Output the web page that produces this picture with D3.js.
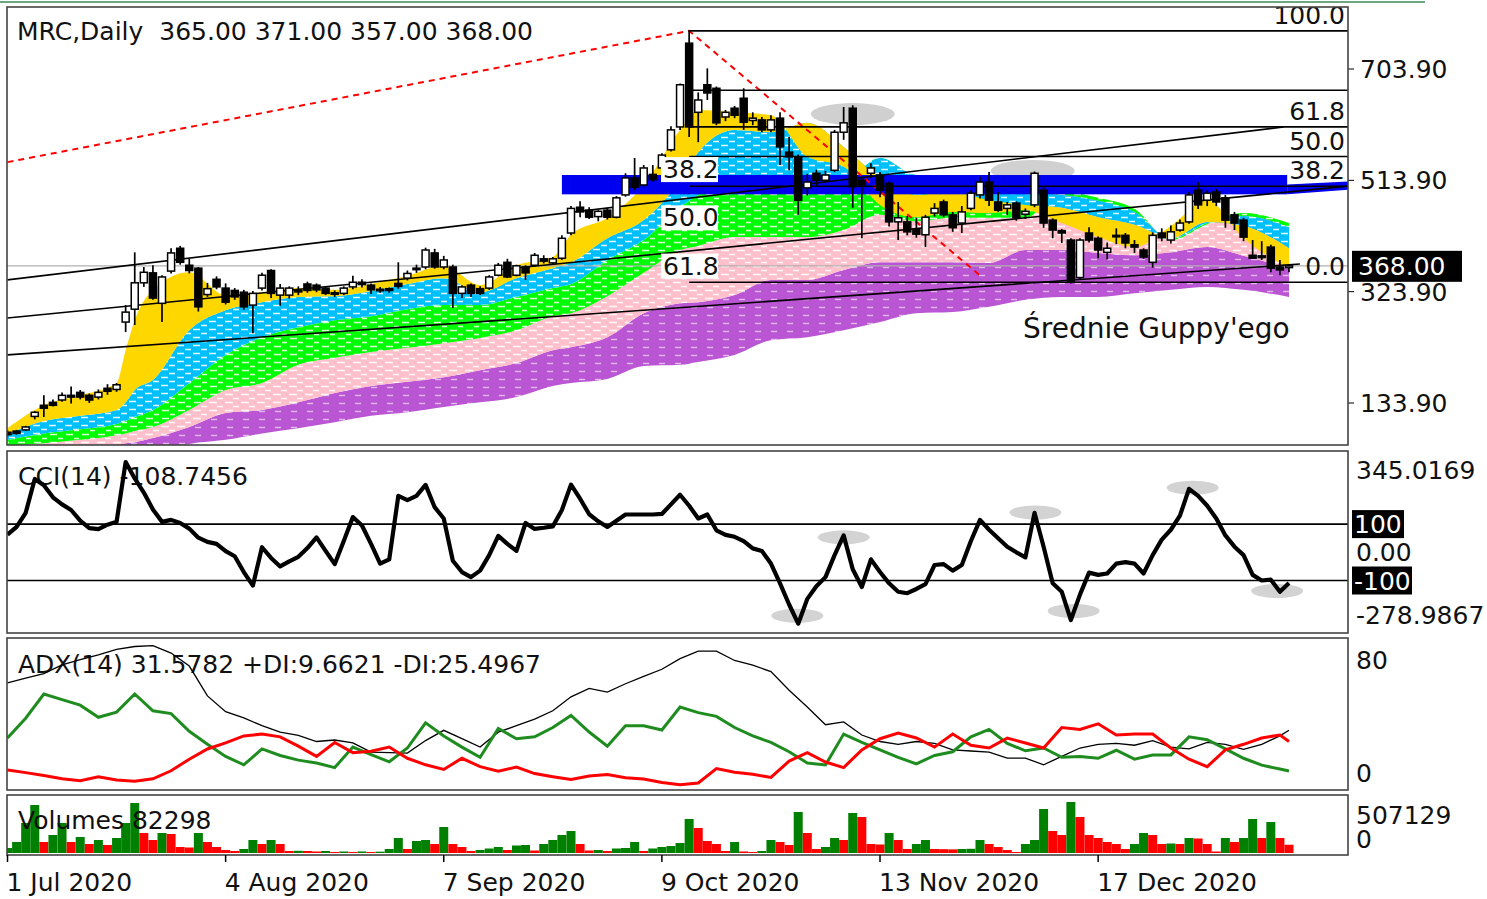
<!DOCTYPE html>
<html>
<head>
<meta charset="utf-8">
<title>MRC Daily</title>
<script src="https://cdn.jsdelivr.net/npm/d3@7"></script>
<style>
  body { margin: 0; background: #fff; }
  svg { display: block; }
  text { font-family: "DejaVu Sans", Verdana, sans-serif; font-size: 25px; fill: #111; white-space: pre; }
</style>
</head>
<body>
<svg id="chart" width="1487" height="899"></svg>
<script>
// bar index of each date label on the time axis
var tickBars = [0, 24, 48, 72, 96, 120];
var tickLabels = ["1 Jul 2020", "4 Aug 2020", "7 Sep 2020", "9 Oct 2020", "13 Nov 2020", "17 Dec 2020"];

var opens = [84,86,88,111,130,135,139,147,152,147, 144,159,157,272,294,339,356,304,359,398,
  369,364,319,345,330,326,323,301,330,360, 318,318,326,337,335,330,322,321,332,340,
  335,327,329,338,347,362,366,390,366,366, 321,335,329,330,352,374,352,366,369,380,
  373,381,424,468,463,452,463,451,489,518, 506,524,535,566,605,748,630,677,671,622,
  637,654,616,617,600,620,562,554,501,526, 514,531,596,637,514,526,523,509,443,443,
  430,421,458,477,455,441,466,489,511,477, 466,475,456,472,497,446,428,412,348,424,
  415,391,420,420,404,395,374,424,412,429, 443,497,480,494,484,455,446,386,385,400,
  366,365];
var highs = [87,88,95,120,147,140,152,162,156,150, 157,166,168,301,391,366,369,352,398,402,
  380,366,339,350,338,330,327,325,356,362, 337,333,333,341,338,333,326,333,351,345,
  338,332,331,374,360,370,399,397,385,370, 335,338,333,352,373,380,370,369,390,386,
  383,420,470,478,468,463,467,487,526,552, 540,540,560,606,679,770,664,705,674,634,
  641,671,630,622,625,630,588,558,525,532, 530,600,639,642,518,543,528,512,477,453,
  450,455,475,481,460,470,497,520,528,494, 477,478,466,529,503,449,431,415,415,434,
  418,408,432,424,412,398,425,432,437,447, 494,511,497,499,489,460,450,412,410,404,
  378,371];
var lows = [77,80,86,106,110,128,136,133,140,134, 140,148,153,255,267,332,310,272,355,370,
  355,290,315,328,302,310,293,253,326,313, 300,312,318,322,323,318,315,318,328,331,
  320,322,322,329,343,356,362,363,362,296, 313,315,318,327,350,347,350,344,367,372,
  370,378,420,451,448,444,447,449,486,497, 503,512,530,563,600,588,579,651,608,615,
  620,600,608,596,596,540,531,455,488,505, 510,528,583,467,415,518,485,435,412,420,
  416,400,452,451,426,424,463,483,470,460, 455,445,448,468,433,415,407,338,344,408,
  381,379,405,398,390,380,365,410,406,426, 440,465,470,470,433,429,410,380,378,357,
  352,357];
var closes = [80,82,93,118,125,130,147,144,144,139, 152,154,165,289,339,357,313,349,390,374,
  360,298,329,332,306,315,298,321,352,321, 330,330,325,326,327,321,320,330,340,336,
  327,328,326,333,355,364,395,366,378,321, 332,321,321,349,369,349,368,356,386,376,
  380,415,466,460,451,461,451,484,518,502, 535,515,557,600,677,605,651,663,612,630,
  625,613,620,600,617,571,554,480,511,514, 523,596,612,503,506,535,497,443,450,426,
  422,451,466,455,433,460,492,511,480,463, 472,450,461,526,441,429,424,340,412,412,
  395,398,418,407,400,383,420,416,426,441, 489,472,492,477,446,441,417,381,382,364,
  361,368];

var volumes = [49700,109400,298300,477300,109400,179000,298300,109400,159100,89500,
  129300,79600,149200,298300,497200,198900,129300,198900,188900,59700,
  54700,198900,109400,59700,29800,19900,39800,129300,89500,129300,
  89500,19900,21900,19900,14900,19900,9900,14900,9900,14900,
  9900,12900,39800,149200,39800,119300,129300,89500,258500,89500,
  59700,19900,29800,44700,59700,29800,74600,79600,24900,89500,
  129300,179000,218800,89500,24900,29800,19900,44700,49700,109400,
  19900,44700,59700,69600,99400,338100,248600,119300,89500,19900,
  109400,14900,9900,19900,129300,109400,79600,407700,198900,39800,
  59700,149200,129300,397800,358000,89500,84500,198900,129300,39800,
  89500,129300,39800,37800,35800,39800,41800,129300,89500,59700,
  29800,9900,89500,129300,437500,218800,179000,507129,358000,179000,
  149200,109400,89500,39800,89500,198900,179000,89500,94500,89500,
  149200,144200,89500,14900,149200,109400,149200,338100,149200,308300,
  149200,82298];

var cci = [63,90,140,260,238,195,170,150,112,86, 82,98,108,320,262,212,152,108,115,104,
  84,52,37,30,4,-14,-70,-118,18,-20, -50,-32,-16,15,53,5,-42,40,125,95,
  30,-40,-25,200,185,200,239,160,120,-30, -70,-88,-65,-10,58,30,5,104,83,87,
  92,150,240,190,135,110,90,112,134,134, 134,134,136,170,204,165,120,134,78,62,
  55,40,14,5,-40,-110,-185,-253,-165,-120, -88,-10,60,-60,-123,-25,-70,-110,-140,-145,
  -130,-113,-45,-42,-65,-45,40,115,80,50, 20,0,-18,140,20,-110,-140,-240,-150,-72,
  -80,-75,-40,-35,-40,-75,-10,45,80,130, 225,200,165,120,60,20,-10,-80,-100,-97,
  -140,-108.7456];
// CCI extremes marked with grey ellipses
var cciMarkBars = [86.9, 92, 113.1, 117.3, 130.4, 139.7];
var cciMarkValues = [-225, 53, 141, -208, 229, -137];

// ADX(14) read every second bar
var dmBars = [0,2,4,6,8,10,12,14,16,18,20,22,24,26,28,30,32,34,36,38,40,42,44,46,48,50,52,54,56,58,
  60,62,64,66,68,70,72,74,76,78,80,82,84,86,88,90,92,94,96,98,100,102,104,106,108,110,112,114,116,118,
  120,122,124,126,128,130,132,134,136,138,140,141];
var adx = [57,59.5,62,66.6,69.5,72,75,76.5,77,73, 66,50,41.5,38.2,34,30.5,28.8,25.5,26.3,24.8,
  19.8,19.5,19.3,26,31.5,27,22.5,30.5,34,37.5, 42,49.5,54,52,56.5,60.5,64.3,70,74,74,
  69,66.5,63,53,44,34.5,36,29,25.5,24, 25.5,24.5,21,20.4,19.8,16.6,16.6,13,17.5,22,
  24,24.5,23.5,26,22.5,21.5,25,24,21.3,24, 28.5,31.5782];
var plusDI = [27.4,38,51,48,45,38.5,41.3,51,42,40.5, 31,24,17.5,13,21.5,18,15.5,14,11.5,22.5,
  18.5,14.6,22,35.5,28.5,22.5,17,32.5,27,28, 33,39.5,30.6,23,34,34,31.7,44,41,39,
  33,28.5,25,20,14,12.9,29.5,25,21,17, 13.5,18,20,28,32,24.5,20.5,22,17,17.5,
  16.5,20.8,16,18.3,18.3,28,26.5,21.5,16.5,12.8, 10.7,9.6621];
var minusDI = [10.2,8.8,7.2,5.5,4.5,6.5,4.8,4.2,5.5,9.8, 16,21.5,24.8,28.5,29.5,28,23,17.5,25,19.5,
  20.3,22.5,16.5,13,10.5,16.5,12,9.5,11.8,8.3, 6.6,5.1,7,7.8,6.1,5.4,3.5,2.3,3.2,11,
  9,7.9,6.2,15,19.5,14.5,11.5,21,27,30, 27.4,22.5,29.5,23.5,22,27.3,24.7,22,33,32,
  35,29,29.5,29.5,22,16,12,21,24,27.4, 29,25.4967];

// Guppy ribbon edges, fastest to slowest, read at these bars
var guppyBars = [0,4,8,12,13,14,16,20,24,28,32,36,40,44,48,52,56,60,62,66,70,74,76,80,84,88,92,96,100,104,108,112,116,120,124,128,132,136,141];
var guppy1 = [91,130,147,168,224,275,327,357,318,323,330,327,337,351,368,335,369,383,421,450,506,600,634,630,625,554,537,472,451,460,458,463,441,417,400,436,480,415,364];
var guppy2 = [81,103,112,122,135,156,173,258,292,306,315,316,325,337,347,323,347,364,374,415,446,514,562,600,596,612,571,518,489,494,480,472,467,451,438,415,443,436,398];
var guppy3 = [71,82,89,98,103,110,122,168,216,246,263,275,282,294,301,301,315,330,337,378,412,468,489,514,506,523,514,552,523,523,497,492,489,479,460,414,441,453,434];
var guppy4 = [60,65,71,79,82,86,93,122,156,168,199,211,221,228,236,245,258,282,287,316,356,395,402,417,417,417,429,455,444,450,450,450,494,484,465,412,439,458,441];
var guppy5 = [45,53,57,62,65,67,74,93,117,122,135,151,163,170,178,190,202,224,229,246,287,304,306,318,344,344,361,374,374,374,373,395,395,390,386,391,400,385,364];
var guppy6 = [19,28,33,40,43,45,50,64,71,82,91,101,112,118,127,135,144,163,168,175,197,199,204,216,241,246,258,272,287,289,298,310,315,315,321,327,332,327,315];

var priceTicks = [703.9, 513.9, 323.9, 133.9];
var lastPrice = 368.00;

// drawn objects: [bar, price] end points
var trendA = [[0, 344], [140.4, 605]];
var trendB = [[0, 279], [147.5, 504]];
var trendC = [[0, 216], [142.2, 371]];
var redDash = [[0, 545], [75, 769], [107.2, 349]];
var zoneBars = [61, 140.8];
var zonePrices = [523, 490];
var zoneTail = [[140.8, 507], [147.5, 512], [147.5, 498], [140.8, 490]];
var priceMarkBars = [93, 112.8];
var priceMarkPrices = [627, 530];

// fibonacci retracement of the Oct-Dec fall, and of the whole rise
var fibLevels = [0, 38.2, 50, 61.8, 76.4, 100];
var fibNames = ["0.0", "38.2", "50.0", "61.8", "", "100.0"];
var fibLow = 340, fibHigh = 769, fibStartBar = 75;
var fib2Levels = [38.2, 50, 61.8];
var fib2Low = 71, fib2High = 769;

var svg = d3.select("#chart");
var defs = svg.append("defs");
var L = 7, R = 1348;

var x = d3.scaleLinear().domain([0, 141]).range([7.5, 1289]);
var yP = d3.scaleLinear().domain([133.9, 703.9]).range([403, 69]);
var yC = d3.scaleLinear().domain([-278.9867, 345.0169]).range([631, 455]);
var yA = d3.scaleLinear().domain([0, 80]).range([789, 640]);
var yV = d3.scaleLinear().domain([0, 507129]).range([853, 802]);

var panes = [[7, 445, "clipPrice"], [451, 633, "clipCci"], [638, 790, "clipAdx"], [795, 855, "clipVol"]];
panes.forEach(function(p) {
  defs.append("clipPath").attr("id", p[2]).append("rect")
      .attr("x", L).attr("y", p[0]).attr("width", R - L).attr("height", p[1] - p[0]);
});

function pattern(id, color, d, op) {
  var p = defs.append("pattern").attr("id", id).attr("patternUnits", "userSpaceOnUse")
      .attr("width", 16).attr("height", 8);
  p.append("rect").attr("width", 16).attr("height", 8).attr("fill", color);
  p.append("path").attr("d", d).attr("stroke", "#fff").attr("stroke-width", 1.4).attr("stroke-opacity", op);
}
pattern("pBlue", "#00bfff", "M1,1.5h7M9,5.5h6", 0.9);
pattern("pGreen", "#00ff00", "M2,2.5h7M10,6.5h5", 0.85);
pattern("pPink", "#ffc0cb", "M1,2.5h8M9,6.5h6", 0.9);
pattern("pPurple", "#ba55d3", "M3,3.5h6", 0.6);

svg.append("line").attr("x1", 0).attr("x2", 1425).attr("y1", 2).attr("y2", 2)
    .attr("stroke", "#3a8a5a").attr("stroke-width", 1.5);

// ---------- price pane ----------
var gp = svg.append("g").attr("clip-path", "url(#clipPrice)");
var edges = [guppy1, guppy2, guppy3, guppy4, guppy5, guppy6];
var bandFill = ["#ffd700", "url(#pBlue)", "url(#pGreen)", "url(#pPink)", "url(#pPurple)"];
[4, 3, 2, 1, 0].forEach(function(k) {
  var area = d3.area()
      .x(function(d, i) { return x(guppyBars[i]); })
      .y0(function(d, i) { return yP(edges[k][i]); })
      .y1(function(d, i) { return yP(edges[k + 1][i]); })
      .curve(d3.curveMonotoneX);
  gp.append("path").datum(guppyBars).attr("d", area).attr("fill", bandFill[k]);
});

gp.append("line").attr("x1", L).attr("x2", R).attr("y1", yP(lastPrice)).attr("y2", yP(lastPrice))
    .attr("stroke", "#b0b0b0").attr("stroke-width", 1.2);

gp.selectAll("ellipse.mark").data(priceMarkBars).join("ellipse")
    .attr("cx", function(d) { return x(d); })
    .attr("cy", function(d, i) { return yP(priceMarkPrices[i]); })
    .attr("rx", 42).attr("ry", 11).attr("fill", "#d0d0d0");

gp.append("rect").attr("x", x(zoneBars[0])).attr("width", x(zoneBars[1]) - x(zoneBars[0]))
    .attr("y", yP(zonePrices[0])).attr("height", yP(zonePrices[1]) - yP(zonePrices[0]))
    .attr("fill", "#0000f0");
gp.append("path")
    .attr("d", d3.line().x(function(d) { return x(d[0]); }).y(function(d) { return yP(d[1]); })(zoneTail) + "Z")
    .attr("fill", "#0000f0");

var seg = d3.line().x(function(d) { return x(d[0]); }).y(function(d) { return yP(d[1]); });
[trendA, trendB, trendC].forEach(function(t) {
  gp.append("path").attr("d", seg(t)).attr("fill", "none").attr("stroke", "#000").attr("stroke-width", 1.6);
});
gp.append("path").attr("d", seg(redDash)).attr("fill", "none").attr("stroke", "#ff0000")
    .attr("stroke-width", 2).attr("stroke-dasharray", "6,5");

function fibPrice(lv) { return fibLow + (fibHigh - fibLow) * lv / 100; }
gp.selectAll("line.fib").data(fibLevels).join("line")
    .attr("x1", x(fibStartBar)).attr("x2", R)
    .attr("y1", function(d) { return yP(fibPrice(d)); })
    .attr("y2", function(d) { return yP(fibPrice(d)); })
    .attr("stroke", "#000").attr("stroke-width", 1.6);

// candles
var bars = gp.selectAll("g.candle").data(d3.range(closes.length)).join("g");
bars.append("line")
    .attr("x1", function(i) { return x(i); }).attr("x2", function(i) { return x(i); })
    .attr("y1", function(i) { return yP(highs[i]); }).attr("y2", function(i) { return yP(lows[i]); })
    .attr("stroke", "#000").attr("stroke-width", 1.7);
bars.append("rect")
    .attr("x", function(i) { return x(i) - 3.5; }).attr("width", 7)
    .attr("y", function(i) { return yP(Math.max(opens[i], closes[i])); })
    .attr("height", function(i) { return Math.max(1.5, Math.abs(yP(opens[i]) - yP(closes[i]))); })
    .attr("fill", function(i) { return closes[i] >= opens[i] ? "#fff" : "#000"; })
    .attr("stroke", "#000").attr("stroke-width", 1.5);

gp.selectAll("text.fib").data(fibLevels).join("text")
    .attr("x", 1345).attr("text-anchor", "end")
    .attr("y", function(d) { return yP(fibPrice(d)) - 7; })
    .text(function(d, i) { return fibNames[i]; });

var f2 = gp.selectAll("g.fib2").data(fib2Levels).join("g")
    .attr("transform", function(d) {
      return "translate(661," + (yP(fib2High - (fib2High - fib2Low) * d / 100) - 30) + ")";
    });
f2.append("rect").attr("width", 57).attr("height", 25).attr("fill", "#fff");
f2.append("text").attr("x", 2).attr("y", 21).text(function(d) { return d.toFixed(1); });

gp.append("text").attr("x", 1023).attr("y", 338).style("font-size", "28px").text("Średnie Guppy'ego");

svg.append("text").attr("x", 17).attr("y", 40).text("MRC,Daily  365.00 371.00 357.00 368.00");

svg.selectAll("line.ptick").data(priceTicks).join("line")
    .attr("x1", R).attr("x2", R + 6).attr("y1", yP).attr("y2", yP).attr("stroke", "#000");
svg.selectAll("text.plab").data(priceTicks).join("text")
    .attr("x", 1360).attr("y", function(d) { return yP(d) + 9; })
    .text(function(d) { return d.toFixed(2); });
svg.append("rect").attr("x", 1352).attr("y", yP(lastPrice) - 15).attr("width", 110).attr("height", 31).attr("fill", "#000");
svg.append("text").attr("x", 1358).attr("y", yP(lastPrice) + 9).style("fill", "#fff").text(lastPrice.toFixed(2));

// ---------- CCI pane ----------
var gc = svg.append("g").attr("clip-path", "url(#clipCci)");
gc.selectAll("line.lvl").data([100, -100]).join("line")
    .attr("x1", L).attr("x2", R).attr("y1", yC).attr("y2", yC)
    .attr("stroke", "#000").attr("stroke-width", 1.6);
gc.selectAll("ellipse").data(cciMarkBars).join("ellipse")
    .attr("cx", function(d) { return x(d); })
    .attr("cy", function(d, i) { return yC(cciMarkValues[i]); })
    .attr("rx", 26).attr("ry", 7).attr("fill", "#d3d3d3");
gc.append("text").attr("x", 18).attr("y", 485).text("CCI(14) -108.7456");
gc.append("path").datum(cci)
    .attr("d", d3.line().x(function(d, i) { return x(i); }).y(function(d) { return yC(d); }))
    .attr("fill", "none").attr("stroke", "#000").attr("stroke-width", 4.2).attr("stroke-linejoin", "round");

svg.append("text").attr("x", 1356).attr("y", 479).text("345.0169");
svg.append("text").attr("x", 1356).attr("y", yC(0) + 9).text("0.00");
svg.append("text").attr("x", 1356).attr("y", 624).text("-278.9867");
[[100, 52], [-100, 60]].forEach(function(b) {
  svg.append("rect").attr("x", 1352).attr("y", yC(b[0]) - 14).attr("width", b[1]).attr("height", 28).attr("fill", "#000");
  svg.append("text").attr("x", 1354).attr("y", yC(b[0]) + 9).style("fill", "#fff").text(String(b[0]));
});

// ---------- ADX pane ----------
var ga = svg.append("g").attr("clip-path", "url(#clipAdx)");
ga.append("text").attr("x", 18).attr("y", 673).text("ADX(14) 31.5782 +DI:9.6621 -DI:25.4967");
var dmLine = d3.line().x(function(d, i) { return x(dmBars[i]); }).y(function(d) { return yA(d); });
ga.append("path").datum(adx).attr("d", dmLine).attr("fill", "none").attr("stroke", "#000").attr("stroke-width", 1.3);
ga.append("path").datum(plusDI).attr("d", dmLine).attr("fill", "none").attr("stroke", "#1f8c1f").attr("stroke-width", 3);
ga.append("path").datum(minusDI).attr("d", dmLine).attr("fill", "none").attr("stroke", "#ff0000").attr("stroke-width", 3);
svg.append("text").attr("x", 1356).attr("y", 669).text("80");
svg.append("text").attr("x", 1356).attr("y", 782).text("0");

// ---------- volume pane ----------
var gv = svg.append("g").attr("clip-path", "url(#clipVol)");
gv.selectAll("rect").data(volumes).join("rect")
    .attr("x", function(d, i) { return x(i) - 4.5; }).attr("width", 9)
    .attr("y", function(d) { return yV(d); })
    .attr("height", function(d) { return yV(0) - yV(d); })
    .attr("fill", function(d, i) { return i === 0 || d > volumes[i - 1] ? "#008000" : "#ff0000"; });
gv.append("text").attr("x", 18).attr("y", 829).text("Volumes 82298");
svg.append("text").attr("x", 1356).attr("y", 824).text("507129");
svg.append("text").attr("x", 1356).attr("y", 848).text("0");

// pane frames
panes.forEach(function(p) {
  svg.append("rect").attr("x", L).attr("y", p[0]).attr("width", R - L).attr("height", p[1] - p[0])
      .attr("fill", "none").attr("stroke", "#444").attr("stroke-width", 1.6);
});

// time axis
svg.selectAll("line.xt").data(tickBars).join("line")
    .attr("x1", function(d) { return x(d); }).attr("x2", function(d) { return x(d); })
    .attr("y1", 855).attr("y2", 862).attr("stroke", "#000").attr("stroke-width", 1.5);
svg.selectAll("text.xl").data(tickLabels).join("text")
    .attr("x", function(d, i) { return x(tickBars[i]) - 1; }).attr("y", 891)
    .text(function(d) { return d; });
</script>
</body>
</html>
